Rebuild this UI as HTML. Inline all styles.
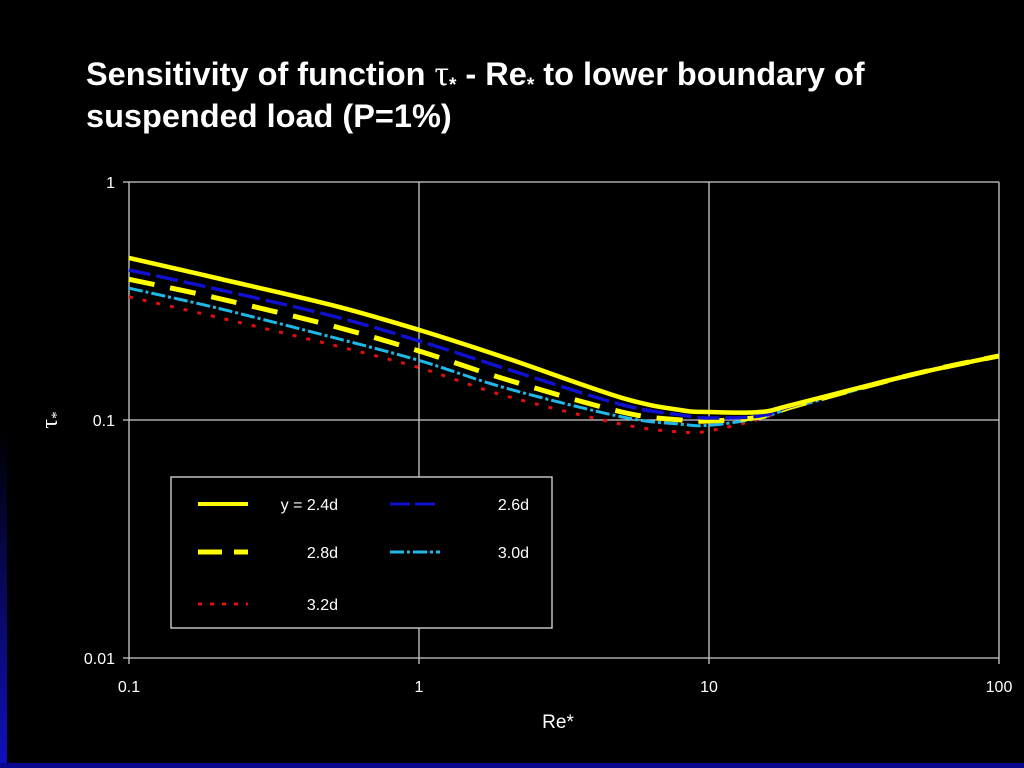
<!DOCTYPE html>
<html><head><meta charset="utf-8"><style>
body{margin:0;background:#000;width:1024px;height:768px;overflow:hidden;font-family:"Liberation Sans",Arial,sans-serif;}
</style></head><body>
<svg width="1024" height="768" style="position:absolute;left:0;top:0">
<defs><linearGradient id="lg" x1="0" y1="0" x2="0" y2="1"><stop offset="0" stop-color="#000"/><stop offset="1" stop-color="#1010c0"/></linearGradient></defs>
<rect x="0" y="430" width="7" height="338" fill="url(#lg)"/>
<rect x="0" y="763" width="1024" height="5" fill="#0a0a90"/>
<text x="86" y="85" fill="#fff" font-size="32.5" font-weight="bold">Sensitivity of function <tspan font-family="Liberation Serif" font-weight="normal" font-size="36">τ</tspan><tspan font-size="19" dy="6">*</tspan><tspan dy="-6"> - Re</tspan><tspan font-size="19" dy="6">*</tspan><tspan dy="-6"> to lower boundary of</tspan></text>
<text x="86" y="127" fill="#fff" font-size="32.5" font-weight="bold">suspended load (P=1%)</text>
<g id="grid"></g>
<g id="series"></g>
<g id="legend"></g>
<text x="558" y="728" fill="#fff" font-size="19" text-anchor="middle">Re*</text>
<text x="50" y="427" fill="#fff" font-size="24" font-family="Liberation Serif" text-anchor="middle" transform="rotate(-90 50 420)">τ<tspan font-size="15" dy="4">*</tspan></text>
</svg>
<script>
const xs=[0.1,0.2,0.5,1,2,5,8,10,15,20,50,100];
const s24=[0.48,0.395,0.304,0.239,0.182,0.124,0.110,0.108,0.108,0.117,0.155,0.186];
const s26=[0.427,0.355,0.274,0.215,0.164,0.116,0.105,0.102,0.104,0.116,0.155,0.186];
const s28=[0.39,0.326,0.249,0.195,0.148,0.108,0.100,0.099,0.103,0.115,0.155,0.186];
const s30=[0.358,0.296,0.223,0.178,0.136,0.103,0.096,0.095,0.102,0.114,0.154,0.185];
const s32=[0.329,0.271,0.207,0.166,0.126,0.096,0.089,0.090,0.101,0.114,0.154,0.185];
const xTicks=["0.1","1","10","100"];
const yTicks=["1","0.1","0.01"];
const NS="http://www.w3.org/2000/svg";
const X=v=>129+290*(Math.log10(v)+1);
const Y=v=>182-238*Math.log10(v);
function mk(t,a,p){const e=document.createElementNS(NS,t);for(const k in a)e.setAttribute(k,a[k]);p.appendChild(e);return e;}
function smooth(P){let d='M'+P[0][0].toFixed(1)+','+P[0][1].toFixed(1);
 for(let i=0;i<P.length-1;i++){const p0=P[Math.max(0,i-1)],p1=P[i],p2=P[i+1],p3=P[Math.min(P.length-1,i+2)];
 const c1=[p1[0]+(p2[0]-p0[0])/6,p1[1]+(p2[1]-p0[1])/6],c2=[p2[0]-(p3[0]-p1[0])/6,p2[1]-(p3[1]-p1[1])/6];
 d+=' C'+c1.map(v=>v.toFixed(1)).join(',')+' '+c2.map(v=>v.toFixed(1)).join(',')+' '+p2[0].toFixed(1)+','+p2[1].toFixed(1);}
 return d;}
const g=document.getElementById('grid');
xTicks.forEach(t=>{const x=X(+t);
const l=mk('line',{x1:x,y1:182,x2:x,y2:664,stroke:'#ccc','stroke-width':1.3},g);


const tx=mk('text',{x:x,y:692,fill:'#fff','font-size':16,'text-anchor':'middle'},g);tx.textContent=t;

});
yTicks.forEach(t=>{const y=Y(+t);
const l=mk('line',{x1:123,y1:y,x2:999,y2:y,stroke:'#ccc','stroke-width':1.3},g);


const tx=mk('text',{x:115,y:y+6,fill:'#fff','font-size':16,'text-anchor':'end'},g);tx.textContent=t;

});
const sg=document.getElementById('series');
const styles=[
 {d:s32,c:'#e01010',w:3,da:'4 10',n:'series-3.2d'},
 {d:s30,c:'#20b8e8',w:3,da:'14 3 3 3',n:'series-3.0d'},
 {d:s28,c:'#ffff00',w:5,da:'26 16',n:'series-2.8d'},
 {d:s26,c:'#1010d0',w:3.5,da:'22 6',n:'series-2.6d'},
 {d:s24,c:'#ffff00',w:4.5,da:'none',n:'series-2.4d'}];
styles.forEach(s=>{
 const P=xs.map((x,i)=>[X(x),Y(s.d[i])]);
 const p=mk('path',{d:smooth(P),fill:'none',stroke:s.c,'stroke-width':s.w,'stroke-dasharray':s.da,'stroke-linejoin':'round'},sg);
 
 
});
const lg=document.getElementById('legend');
const box=mk('rect',{x:171,y:477,width:381,height:151,fill:'#000',stroke:'#ddd','stroke-width':1.3},lg);


const leg=[
 {x:198,y:504,c:'#ffff00',w:4,da:'none',t:'y = 2.4d',tx:338},
 {x:390,y:504,c:'#1010d0',w:3,da:'20 5',t:'2.6d',tx:529},
 {x:198,y:552,c:'#ffff00',w:5,da:'24 12',t:'2.8d',tx:338},
 {x:390,y:552,c:'#20b8e8',w:3,da:'14 3 3 3',t:'3.0d',tx:529},
 {x:198,y:604,c:'#e01010',w:3,da:'4 8',t:'3.2d',tx:338}];
leg.forEach(e=>{
 const l=mk('line',{x1:e.x,y1:e.y,x2:e.x+50,y2:e.y,stroke:e.c,'stroke-width':e.w,'stroke-dasharray':e.da},lg);
 
 
 const t=mk('text',{x:e.tx,y:e.y+6,fill:'#fff','font-size':16,'text-anchor':'end'},lg);t.textContent=e.t;
 
 
});
</script>
</body></html>
